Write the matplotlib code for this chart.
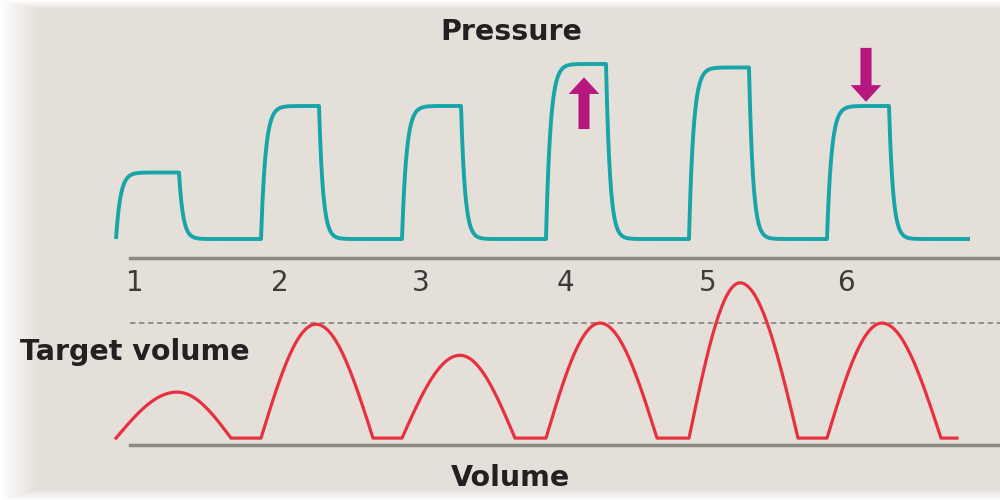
import numpy as np
import matplotlib.pyplot as plt

# breath timing (s)
breath_labels = ['1', '2', '3', '4', '5', '6']
insp_start = [1.16, 2.61, 4.02, 5.46, 6.89, 8.27]
insp_end = [1.79, 3.19, 4.61, 6.06, 7.49, 8.89]
volume_peak = [1.77, 3.16, 4.60, 6.00, 7.40, 8.82]
exp_end = [2.31, 3.73, 5.15, 6.57, 7.98, 9.41]
pressure_end = 9.70
volume_end = 9.57

# levels
peep = 5
plateau_pressure = [14.5, 24, 24, 30, 29.5, 24]   # cmH2O
tidal_volume = [200, 495, 360, 500, 675, 500]     # mL
target_volume = 500

bg = '#e5dfda'
teal = '#17a5a8'
red = '#e8313f'
magenta = '#b5177f'
grey = '#8d8883'
ink = '#222020'


def build_pressure():
    t_all, p_all = [], []
    for i in range(len(insp_start)):
        ts, te = insp_start[i], insp_end[i]
        tn = insp_start[i + 1] if i + 1 < len(insp_start) else pressure_end
        t1 = np.linspace(ts, te, 80)
        p1 = peep + (plateau_pressure[i] - peep) * (1 - np.exp(-(t1 - ts) / 0.045))
        t2 = np.linspace(te, tn, 160)
        p2 = peep + (p1[-1] - peep) * np.exp(-(t2 - te) / 0.04)
        t_all += [t1, t2]
        p_all += [p1, p2]
    return np.concatenate(t_all), np.concatenate(p_all)


def build_volume():
    t_all, v_all = [], []
    for i in range(len(insp_start)):
        ts, te, tx = insp_start[i], volume_peak[i], exp_end[i]
        tn = insp_start[i + 1] if i + 1 < len(insp_start) else volume_end
        t1 = np.linspace(ts, te, 60)
        v1 = tidal_volume[i] * np.sin(np.pi / 2 * (t1 - ts) / (te - ts))
        t2 = np.linspace(te, tx, 60)
        v2 = tidal_volume[i] * np.cos(np.pi / 2 * (t2 - te) / (tx - te))
        t_all += [t1, t2, np.array([tx, tn])]
        v_all += [v1, v2, np.array([0, 0])]
    return np.concatenate(t_all), np.concatenate(v_all)


fig = plt.figure(figsize=(10, 5), dpi=100, facecolor=bg)

# faded white border on the left / top / bottom
bax = fig.add_axes([0, 0, 1, 1], zorder=-5)
xx = np.arange(1000)
yy = np.arange(500)
a_left = np.clip(1 - xx / 38.0, 0, 1)[None, :]
a_top = np.clip(1 - yy / 9.0, 0, 1)[:, None]
a_bot = np.clip((yy - 488) / 12.0, 0, 1)[:, None]
alpha = np.maximum(np.maximum(a_left, a_top), a_bot)
img = np.ones((500, 1000, 4))
img[..., 3] = alpha
bax.imshow(img, aspect='auto', extent=(0, 1, 0, 1))
bax.set_xlim(0, 1)
bax.set_ylim(0, 1)
bax.axis('off')

# pressure panel
pax = fig.add_axes([0, 0.5, 1, 0.5])
pax.patch.set_alpha(0)
pax.set_xlim(0, 10)
pax.set_ylim(3.43, 39.14)
pax.axis('off')
tp, pp = build_pressure()
pax.plot(tp, pp, color=teal, lw=2.8, solid_capstyle='butt', solid_joinstyle='round')

# arrows on breath 4 (up) and breath 6 (down)
arrow_style = 'simple,head_length=0.6,head_width=1.1,tail_width=0.4'
pax.annotate('', xy=(insp_end[3] - 0.22, plateau_pressure[3] - 1.9),
             xytext=(insp_end[3] - 0.22, plateau_pressure[3] - 9.3),
             arrowprops=dict(arrowstyle=arrow_style, mutation_scale=20, fc=magenta,
                             ec='none', shrinkA=0, shrinkB=0))
pax.annotate('', xy=(insp_end[5] - 0.23, plateau_pressure[5] + 0.6),
             xytext=(insp_end[5] - 0.23, plateau_pressure[5] + 8.3),
             arrowprops=dict(arrowstyle=arrow_style, mutation_scale=20, fc=magenta,
                             ec='none', shrinkA=0, shrinkB=0))

# volume panel, spines act as the grey separators
vax = fig.add_axes([0.13, 0.11, 0.87, 0.374])
vax.patch.set_alpha(0)
vax.set_xlim(1.3, 10)
vax.set_ylim(-30, 783)
for side in ['left', 'right']:
    vax.spines[side].set_visible(False)
for side in ['top', 'bottom']:
    vax.spines[side].set_color(grey)
    vax.spines[side].set_linewidth(2.5)
vax.set_xticks([])
vax.set_yticks([])
vax.axhline(target_volume, color=grey, lw=1.3, ls=(0, (3, 2)))
tv, vv = build_volume()
vax.plot(tv, vv, color=red, lw=2.3, clip_on=False, solid_joinstyle='round')

for i, lab in enumerate(breath_labels):
    vax.text(insp_start[i] + 0.19, 0.866, lab, transform=vax.get_xaxis_transform(),
             ha='center', va='center', fontsize=20, color='#3d3a38')

fig.text(0.511, 0.936, 'Pressure', ha='center', va='center', fontsize=20.5,
         fontweight='bold', color=ink)
fig.text(0.51, 0.044, 'Volume', ha='center', va='center', fontsize=20.5,
         fontweight='bold', color=ink)
fig.text(0.02, 1 - 352 / 500, 'Target volume', ha='left', va='center', fontsize=20.5,
         fontweight='bold', color=ink)

fig.savefig('out.png', dpi=100, facecolor=bg)
